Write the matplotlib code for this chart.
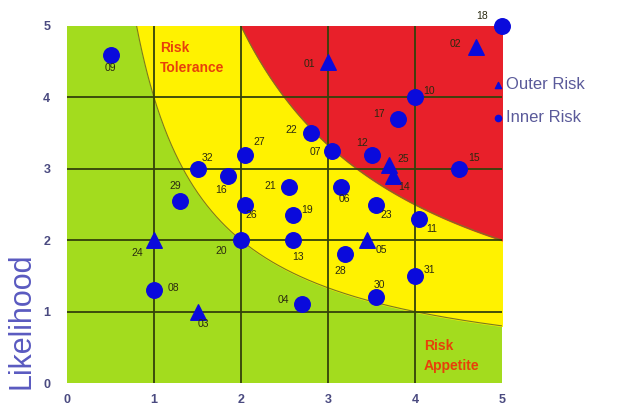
import numpy as np
import matplotlib
matplotlib.use('Agg')
import matplotlib.pyplot as plt

plt.rcParams['font.family'] = ['Liberation Sans', 'DejaVu Sans']

# 風險點資料 (影響, 可能性)
outer_ids = ['01', '02', '03', '05', '14', '24', '25']
outer_x = [3.0, 4.7, 1.5, 3.45, 3.75, 1.0, 3.7]
outer_y = [4.5, 4.7, 1.0, 2.0, 2.9, 2.0, 3.05]

inner_ids = ['04', '06', '07', '08', '09', '10', '11', '12', '13', '15', '16',
             '17', '18', '19', '20', '21', '22', '23', '26', '27', '28', '29',
             '30', '31', '32']
inner_x = [2.7, 3.15, 3.05, 1.0, 0.5, 4.0, 4.05, 3.5, 2.6, 4.5, 1.85,
           3.8, 5.0, 2.6, 2.0, 2.55, 2.8, 3.55, 2.05, 2.05, 3.2, 1.3,
           3.55, 4.0, 1.5]
inner_y = [1.1, 2.75, 3.25, 1.3, 4.6, 4.0, 2.3, 3.2, 2.0, 3.0, 2.9,
           3.7, 5.0, 2.35, 2.0, 2.75, 3.5, 2.5, 2.5, 3.2, 1.8, 2.55,
           1.2, 1.5, 3.0]

# 區域邊界: 影響 x 可能性
appetite_level = 4
tolerance_level = 10

# 標籤偏移 (像素)
label_offsets = {
    '01': (-19, -2), '02': (-20, 3), '03': (6, -12), '04': (-19, 4),
    '05': (14, -10), '06': (3, -12), '07': (-17, -1), '08': (19, 2),
    '09': (0, -13), '10': (14, 6), '11': (12, -10), '12': (-9, 12),
    '13': (5, -17), '14': (11, -11), '15': (16, 11), '16': (-7, -14),
    '17': (-19, 5), '18': (-20, 10), '19': (14, 5), '20': (-20, -11),
    '21': (-19, 1), '22': (-19, 3), '23': (10, -11), '24': (-17, -13),
    '25': (14, 6), '26': (6, -11), '27': (14, 13), '28': (-5, -17),
    '29': (-5, 15), '30': (4, 12), '31': (14, 6), '32': (10, 11),
}

green = '#a3dc1e'
yellow = '#fff200'
red = '#e8202a'
edge = '#7a7a20'
grid_c = '#34420a'
blue = '#0a0adc'
tick_c = '#4a4a80'

fig = plt.figure(figsize=(6.23, 4.07), dpi=100)
ax = fig.add_axes([67 / 623, 24 / 407, 435 / 623, 357 / 407])
ax.set_facecolor(green)

xs = np.linspace(appetite_level / 5, 5, 400)
ax.fill_between(xs, appetite_level / xs, 5, color=yellow, zorder=0)
ax.plot(xs, appetite_level / xs, color=edge, lw=0.8, zorder=1)
xr = np.linspace(tolerance_level / 5, 5, 400)
ax.fill_between(xr, tolerance_level / xr, 5, color=red, zorder=0)
ax.plot(xr, tolerance_level / xr, color=edge, lw=0.8, zorder=1)

for v in [1, 2, 3, 4]:
    ax.axvline(v, color=grid_c, lw=1.3, zorder=2)
    ax.axhline(v, color=grid_c, lw=1.3, zorder=2)

ax.set_xlim(0, 5)
ax.set_ylim(0, 5)
ax.set_xticks(range(6))
ax.set_yticks(range(6))
ax.tick_params(length=0, labelsize=9, labelcolor=tick_c)
ax.tick_params(axis='x', pad=8)
ax.tick_params(axis='y', pad=12)
for lab in ax.get_xticklabels() + ax.get_yticklabels():
    lab.set_fontweight('bold')
for s in ax.spines.values():
    s.set_visible(False)

ax.scatter(outer_x, outer_y, marker='^', s=125, color=blue, zorder=4,
           clip_on=False, label='Outer Risk')
ax.scatter(inner_x, inner_y, marker='o', s=125, color=blue, zorder=4,
           clip_on=False, label='Inner Risk')

for ids, px, py in [(outer_ids, outer_x, outer_y), (inner_ids, inner_x, inner_y)]:
    for i, name in enumerate(ids):
        ax.annotate(name, (px[i], py[i]), textcoords='offset pixels',
                    xytext=label_offsets[name], ha='center', va='center',
                    fontsize=7.5, color='#2a2a10', zorder=5, annotation_clip=False)

ax.text(1.07, 4.55, 'Risk\nTolerance', color='#e8400a', fontsize=10,
        fontweight='bold', va='center', ha='left', linespacing=1.6, zorder=3)
ax.text(4.1, 0.38, 'Risk\nAppetite', color='#e8400a', fontsize=10,
        fontweight='bold', va='center', ha='left', linespacing=1.6, zorder=3)

fig.text(22 / 623, 1 - 321 / 407, 'Likelihood', rotation=90, va='center',
         ha='center', fontsize=22, color='#5a5ac0')

ax.legend(loc='upper left', bbox_to_anchor=(478 / 623, 1 - 62 / 407),
          bbox_transform=fig.transFigure, frameon=False, markerscale=0.4,
          handlelength=0.6, handletextpad=0.2, labelspacing=1.1,
          fontsize=12, labelcolor='#5a5a9a')

fig.savefig('out.png', dpi=100)
